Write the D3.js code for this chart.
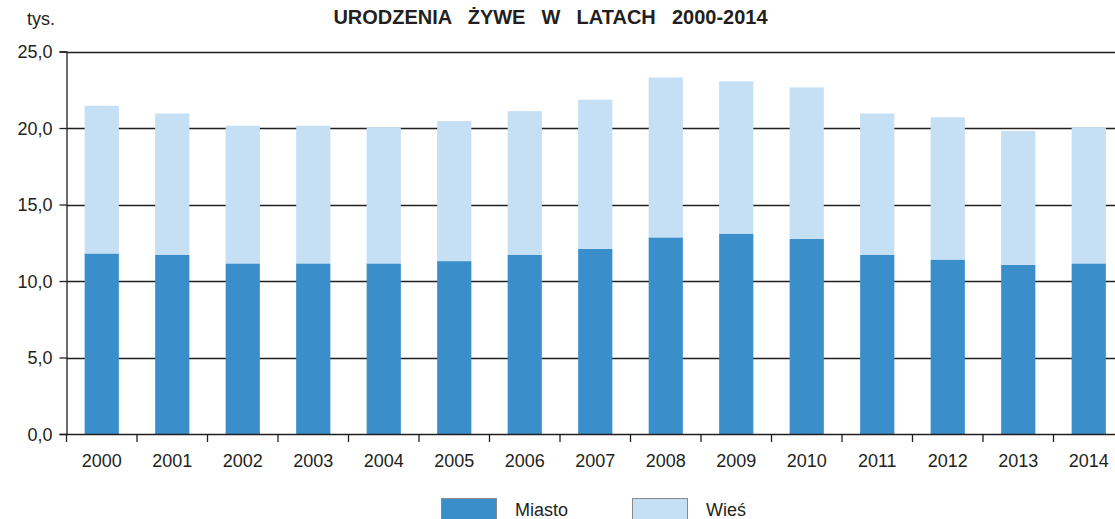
<!DOCTYPE html>
<html>
<head>
<meta charset="utf-8">
<script src="https://cdn.jsdelivr.net/npm/d3@7"></script>
<style>
  body { margin: 0; background: #fff; }
  svg { display: block; font-family: "Liberation Sans", Arial, sans-serif; }
</style>
</head>
<body>
<script>
// data, in thousands
var years = ['2000','2001','2002','2003','2004','2005','2006','2007','2008','2009','2010','2011','2012','2013','2014'];
var miasto = [11.8, 11.7, 11.15, 11.15, 11.15, 11.3, 11.7, 12.1, 12.85, 13.1, 12.75, 11.7, 11.4, 11.05, 11.15];
var razem = [21.45, 20.95, 20.15, 20.15, 20.05, 20.45, 21.1, 21.85, 23.3, 23.05, 22.65, 20.95, 20.7, 19.8, 20.05];
var yTicks = [0, 5, 10, 15, 20, 25];
var seriesNames = ['Miasto', 'Wieś'];

var width = 1115, height = 519;
var plotLeft = 66.5, plotRight = 1124, plotTop = 51.5, plotBottom = 434;
var colors = ['#3a8fca', '#c5dff4'];
var ink = '#231f20';

var svg = d3.select('body').append('svg')
  .attr('width', width)
  .attr('height', height);

var x = d3.scaleBand()
  .domain(years)
  .range([plotLeft, plotRight])
  .paddingInner(0.515)
  .paddingOuter(0.2575);

var y = d3.scaleLinear()
  .domain([0, 25])
  .range([plotBottom, plotTop]);

// gridlines
svg.append('g')
  .selectAll('line')
  .data(yTicks.slice(1))
  .enter().append('line')
  .attr('x1', plotLeft).attr('x2', width)
  .attr('y1', d => Math.round(y(d)) + 0.5)
  .attr('y2', d => Math.round(y(d)) + 0.5)
  .attr('stroke', ink)
  .attr('stroke-width', 1.3);

// stacked bars
var rows = years.map((yr, i) => ({year: yr, Miasto: miasto[i], 'Wieś': razem[i] - miasto[i]}));
var stack = d3.stack().keys(seriesNames)(rows);

svg.append('g')
  .selectAll('g')
  .data(stack)
  .enter().append('g')
  .attr('fill', (d, i) => colors[i])
  .selectAll('rect')
  .data(d => d)
  .enter().append('rect')
  .attr('x', d => x(d.data.year))
  .attr('width', x.bandwidth())
  .attr('y', d => y(d[1]))
  .attr('height', d => y(d[0]) - y(d[1]));

// y axis
var yAxis = d3.axisLeft(y)
  .tickValues(yTicks)
  .tickSize(7)
  .tickPadding(7)
  .tickFormat(d => d3.format('.1f')(d).replace('.', ','));

var gy = svg.append('g')
  .attr('transform', 'translate(' + plotLeft + ',0)')
  .call(yAxis);
gy.select('.domain').attr('stroke', ink).attr('stroke-width', 1.3);
gy.selectAll('.tick line').attr('stroke', ink).attr('stroke-width', 1.3);
gy.selectAll('text')
  .attr('fill', ink)
  .attr('font-family', null)
  .attr('font-size', null)
  .style('font-size', '18px')
  .attr('dy', '0.36em');

// x axis: ticks between categories
var xAxisG = svg.append('g').attr('transform', 'translate(0,' + plotBottom + ')');
xAxisG.append('line')
  .attr('x1', plotLeft).attr('x2', width)
  .attr('y1', 0.5).attr('y2', 0.5)
  .attr('stroke', ink).attr('stroke-width', 1.3);
var step = x.step();
xAxisG.selectAll('line.sep')
  .data(d3.range(years.length + 1))
  .enter().append('line')
  .attr('class', 'sep')
  .attr('x1', i => plotLeft + i * step)
  .attr('x2', i => plotLeft + i * step)
  .attr('y1', 0).attr('y2', 8)
  .attr('stroke', ink).attr('stroke-width', 1.3);
xAxisG.selectAll('text')
  .data(years)
  .enter().append('text')
  .attr('x', d => x(d) + x.bandwidth() / 2)
  .attr('y', 33)
  .attr('text-anchor', 'middle')
  .attr('fill', ink)
  .style('font-size', '18px')
  .text(d => d);

// unit label and title
svg.append('text')
  .attr('x', 27).attr('y', 25)
  .attr('fill', ink)
  .style('font-size', '18px')
  .text('tys.');

svg.append('text')
  .attr('x', 550.5).attr('y', 24)
  .attr('text-anchor', 'middle')
  .attr('fill', ink)
  .style('font-size', '20px')
  .style('font-weight', 'bold')
  .style('white-space', 'pre')
  .style('word-spacing', '2.5px')
  .text('URODZENIA  ŻYWE  W  LATACH  2000-2014');

// legend
var legendX = [441, 632];
var legend = svg.append('g').selectAll('g')
  .data(seriesNames)
  .enter().append('g')
  .attr('transform', (d, i) => 'translate(' + legendX[i] + ',498)');
legend.append('rect')
  .attr('x', 0.5).attr('y', 0.5)
  .attr('width', 55).attr('height', 26)
  .attr('fill', (d, i) => colors[i])
  .attr('stroke', '#8a8a8a')
  .attr('stroke-width', 1);
legend.append('text')
  .attr('x', 74).attr('y', 18)
  .attr('fill', ink)
  .style('font-size', '18px')
  .text(d => d);
</script>
</body>
</html>
